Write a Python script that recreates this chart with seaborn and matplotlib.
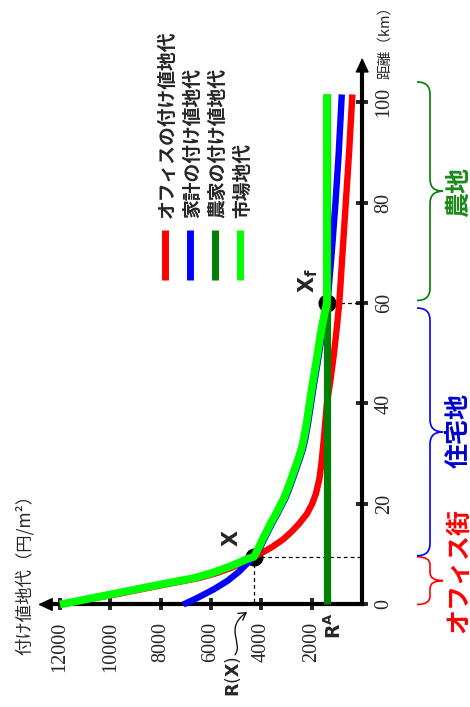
import matplotlib
matplotlib.use("Agg")
import matplotlib.pyplot as plt
from matplotlib.path import Path
from matplotlib.patches import PathPatch, FancyArrowPatch
import seaborn as sns

# bid rent curves, distance (km) vs rent (yen/m2)
office_dist = [0, 2, 4, 5.3, 6.3, 7.3, 8.2, 9.0, 9.5, 10.5, 11.5, 13, 14.5, 16, 18, 20, 22, 25, 28,
               32, 36, 40, 45, 50, 55, 60, 70, 80, 90, 101.5]
office_rent = [12000, 9800, 7800, 6450, 5750, 5200, 4800, 4500, 4300, 3900, 3560, 3130, 2800, 2520,
               2200, 1990, 1840, 1700, 1620, 1540, 1470, 1400, 1250, 1120, 1010, 910, 780, 650, 520, 390]

house_dist = [0, 1.3, 3, 4.7, 6.5, 8.2, 9.5, 11, 12.8, 14.5, 16.2, 17.8, 19.5, 21, 22.8, 24.5, 26.1,
              27.8, 29.4, 31, 32.8, 36, 40, 43, 46, 49, 52, 55, 58, 60, 70, 80, 90, 101.5]
house_rent = [7100, 6550, 5900, 5350, 4900, 4560, 4300, 4080, 3910, 3740, 3570, 3390, 3220, 3060, 2915,
              2790, 2680, 2560, 2450, 2350, 2265, 2150, 2030, 1940, 1840, 1740, 1650, 1550, 1440, 1380,
              1210, 1060, 930, 810]

farm_dist = [0, 101.5]
farm_rent = [1400, 1400]

market_dist = [0, 2, 4, 5.3, 6.3, 7.3, 8.2, 9.0, 9.5, 11, 12.8, 14.5, 16.2, 17.8, 19.5, 21, 22.8, 24.5,
               26.1, 27.8, 29.4, 31, 32.8, 36, 40, 43, 46, 49, 52, 55, 58, 60, 70, 80, 90, 101.5]
market_rent = [12000, 10000, 8000, 6650, 5950, 5400, 4950, 4600, 4300, 4140, 3970, 3800, 3630, 3450,
               3280, 3120, 2975, 2850, 2740, 2620, 2510, 2410, 2325, 2210, 2090, 2000, 1900, 1800,
               1710, 1610, 1490, 1400, 1400, 1400, 1400, 1400]

x_point = (9.5, 4300)
xf_point = (60, 1400)

rent_ticks = [2000, 4000, 6000, 8000, 10000, 12000]
dist_ticks = [0, 20, 40, 60, 80, 100]

series_names = ["オフィスの付け値地代", "家計の付け値地代", "農家の付け値地代", "市場地代"]
series_colors = ["#ff0000", "#0000ff", "#008000", "#00ff00"]
series_widths = [4.6, 4.6, 5.2, 5.6]

zone_names = ["オフィス街", "住宅地", "農地"]
zone_colors = ["#ff0000", "#0000cc", "#1a8a1a"]
brace_colors = ["#ff0000", "#0000ff", "#008000"]
zone_ranges = [(0, 9.5), (9.7, 59), (60.5, 104)]

sns.set_style("white")
plt.rcParams["font.family"] = ["Noto Sans CJK JP", "DejaVu Sans"]
plt.rcParams["mathtext.fontset"] = "dejavusans"

fig = plt.figure(figsize=(4.7, 7.07), dpi=100)
ax = fig.add_axes([0, 0, 1, 1])
ax.set_facecolor("white")

# rotated chart: rent runs to the left, distance runs upwards
curves = [(office_rent, office_dist), (house_rent, house_dist),
          (farm_rent, farm_dist), (market_rent, market_dist)]
for i, (r, d) in enumerate(curves):
    sns.lineplot(x=r, y=d, sort=False, estimator=None, color=series_colors[i],
                 lw=series_widths[i], ax=ax, zorder=3 + i, solid_capstyle="butt")

# intersection points and guide lines
for d, r in [x_point, xf_point]:
    ax.plot([r], [d], "o", color="black", ms=12, zorder=2)
    ax.plot([r, 0], [d, d], color="black", lw=0.9, ls=(0, (3, 2.5)), zorder=2)
ax.plot([x_point[1], x_point[1]], [x_point[0], 0], color="black", lw=0.9, ls=(0, (3, 2.5)), zorder=2)

ax.set_xlim(14380, -4280)
ax.set_ylim(-20.4, 120.3)

for s in ["top", "left"]:
    ax.spines[s].set_visible(False)
ax.spines["bottom"].set_position(("data", 0))
ax.spines["right"].set_position(("data", 0))
ax.spines["bottom"].set_bounds(0, 12600)
ax.spines["right"].set_bounds(0, 106)
for s in ["bottom", "right"]:
    ax.spines[s].set_linewidth(3)
    ax.spines[s].set_color("black")

ax.yaxis.tick_right()
ax.set_xticks(rent_ticks)
ax.set_yticks(dist_ticks)
ax.tick_params(axis="x", direction="inout", length=9, width=2.8, pad=8, labelsize=14.5,
               labelrotation=90, bottom=True)
ax.tick_params(axis="y", direction="inout", length=9, width=2.8, pad=4.5, labelsize=14.5,
               labelrotation=90, right=True, left=False)
for lab in ax.get_xticklabels() + ax.get_yticklabels():
    lab.set_fontfamily("Liberation Serif")
for lab in ax.get_yticklabels():
    lab.set_va("center")

arrow_kw = dict(arrowstyle="-|>,head_length=0.9,head_width=0.42", color="black", lw=1,
                mutation_scale=10, shrinkA=0, shrinkB=0)
ax.annotate("", xy=(12870, 0), xytext=(12400, 0), arrowprops=arrow_kw)
ax.annotate("", xy=(0, 108.8), xytext=(0, 105), arrowprops=arrow_kw)

ax.text(13387, 6.7, "付け値地代（円/m²）", rotation=90, fontsize=12.5, ha="center", va="center")
ax.text(-905, 104.6, "距離（km）", rotation=90, fontsize=10.5, ha="center", va="bottom")

# legend drawn by hand, rotated with the chart
legend_rent = [7829, 6837, 5844, 4851]
for i, name in enumerate(series_names):
    ax.plot([legend_rent[i], legend_rent[i]], [64.6, 74.5], color=series_colors[i], lw=5,
            solid_capstyle="butt")
    ax.text(legend_rent[i] - 100, 76.9, name, rotation=90, fontsize=13.5, fontweight="bold",
            ha="center", va="bottom")

# point labels
ax.text(5169, 13.2, "X", rotation=90, fontsize=15, fontweight="bold", family="DejaVu Sans",
        ha="center", va="center")
ax.text(2132, 64.4, r"$\mathbf{X}_{\mathbf{f}}$", rotation=90, fontsize=15, ha="center", va="center")
ax.text(5130, -14.4, r"$\mathbf{R}(\mathbf{X})$", rotation=90, fontsize=12.5, ha="center", va="center")
ax.text(1080, -4.3, r"$\mathbf{R}^{\mathbf{A}}$", rotation=90, fontsize=13.5, ha="center", va="center")

squiggle = Path([(5050, -10.0), (4700, -7.8), (5500, -4.8), (4574, -1.5)],
                [Path.MOVETO, Path.CURVE4, Path.CURVE4, Path.CURVE4])
ax.add_patch(FancyArrowPatch(path=squiggle, arrowstyle="->,head_length=0.5,head_width=0.3",
                             mutation_scale=10, lw=0.9, color="black"))

# zone braces
x_open, x_spine, x_tip = -2176, -2692, -3208
for (lo, hi), col in zip(zone_ranges, brace_colors):
    mid = (lo + hi) / 2
    r = min(2.4, (hi - lo) / 6)
    verts = [(x_open, hi), (x_spine, hi), (x_spine, hi - r),
             (x_spine, mid + r), (x_spine, mid), (x_tip, mid),
             (x_spine, mid), (x_spine, mid - r),
             (x_spine, lo + r), (x_spine, lo), (x_open, lo)]
    codes = [Path.MOVETO, Path.CURVE3, Path.CURVE3, Path.LINETO, Path.CURVE3, Path.CURVE3,
             Path.CURVE3, Path.CURVE3, Path.LINETO, Path.CURVE3, Path.CURVE3]
    ax.add_patch(PathPatch(Path(verts, codes), fill=False, edgecolor=col, lw=1.2))

zone_label_dist = [6.7, 34.7, 82.1]
for name, col, d in zip(zone_names, zone_colors, zone_label_dist):
    ax.text(-3843, d, name, rotation=90, fontsize=18, fontweight="bold", color=col,
            ha="center", va="center")

ax.set_xlabel("")
ax.set_ylabel("")
fig.savefig("out.png", dpi=100)
